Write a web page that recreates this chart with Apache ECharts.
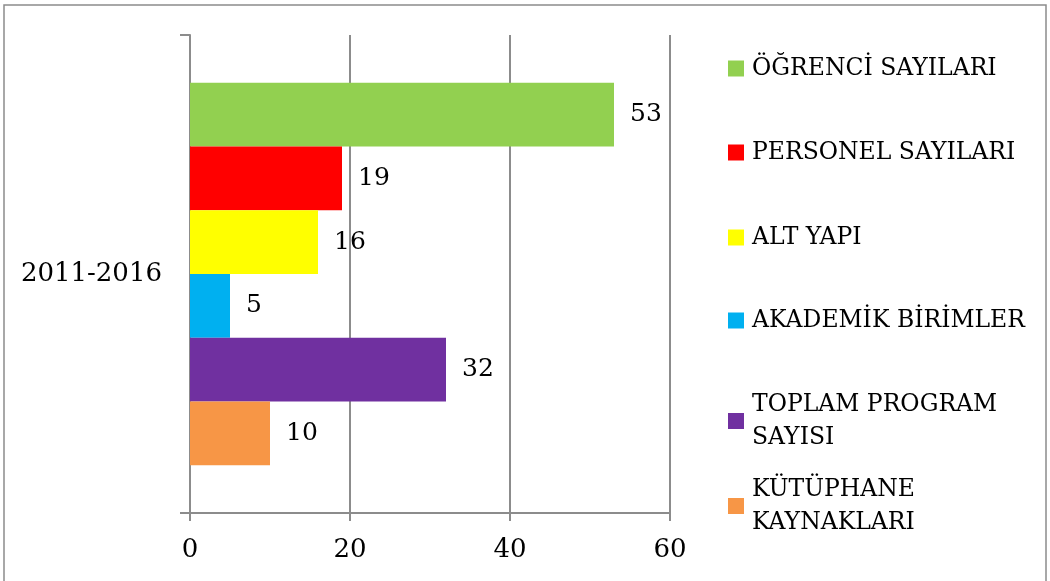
<!DOCTYPE html>
<html>
<head>
<meta charset="utf-8">
<style>
  html, body { margin: 0; padding: 0; background: #fff; }
  #chart { width: 1050px; height: 581px; }
</style>
<script src="https://cdn.jsdelivr.net/npm/echarts@6/dist/echarts.min.js"></script>
</head>
<body>
<div id="chart"></div>
<script>
const categories = ['2011-2016']
const seriesNames = [
  'ÖĞRENCİ SAYILARI',
  'PERSONEL SAYILARI',
  'ALT YAPI',
  'AKADEMİK BİRİMLER',
  'TOPLAM PROGRAM\nSAYISI',
  'KÜTÜPHANE\nKAYNAKLARI'
]
const seriesValues = [53, 19, 16, 5, 32, 10]
const colors = ['#92D050', '#FF0000', '#FFFF00', '#00B0F0', '#7030A0', '#F79646']
const xTicks = { min: 0, max: 60, interval: 20 }

const font = 'DejaVu Serif'
const legendTops = [52, 136, 221, 304, 388, 473]

let chart = echarts.init(document.getElementById('chart'))

chart.setOption({
  animation: false,
  graphic: [{
    type: 'rect',
    shape: { x: 4, y: 5, width: 1042, height: 590 },
    style: { fill: 'none', stroke: '#8c8c8c', lineWidth: 1.5 },
    silent: true
  }],
  grid: {
    left: 190,
    right: 380,
    top: 35,
    bottom: 68
  },
  legend: seriesNames.map((name, i) => ({
    data: [name],
    orient: 'vertical',
    left: 728,
    top: legendTops[i],
    padding: 0,
    icon: 'rect',
    itemWidth: 16,
    itemHeight: 16,
    textStyle: {
      fontFamily: font,
      fontSize: 23.5,
      color: '#000',
      lineHeight: 33,
      padding: [0, 0, 0, 3]
    }
  })),
  xAxis: {
    type: 'value',
    min: xTicks.min,
    max: xTicks.max,
    interval: xTicks.interval,
    axisLine: { show: true, lineStyle: { color: '#8c8c8c', width: 2 } },
    axisTick: { show: true, length: 8, lineStyle: { color: '#8c8c8c', width: 2 } },
    splitLine: { show: true, lineStyle: { color: '#8c8c8c', width: 2 } },
    axisLabel: {
      margin: 24,
      fontFamily: font,
      fontSize: 26,
      color: '#000'
    }
  },
  yAxis: {
    type: 'category',
    data: categories,
    axisLine: { show: true, lineStyle: { color: '#8c8c8c', width: 2 } },
    axisTick: { show: true, length: 10, lineStyle: { color: '#8c8c8c', width: 2 } },
    axisLabel: {
      margin: 28,
      fontFamily: font,
      fontSize: 26,
      color: '#000'
    }
  },
  series: seriesNames.map((name, i) => ({
    name: name,
    type: 'bar',
    data: [seriesValues[i]],
    barGap: '0%',
    barCategoryGap: '20%',
    itemStyle: { color: colors[i] },
    label: {
      show: true,
      position: 'right',
      distance: 16,
      fontFamily: font,
      fontSize: 25,
      color: '#000'
    }
  }))
})
</script>
</body>
</html>
